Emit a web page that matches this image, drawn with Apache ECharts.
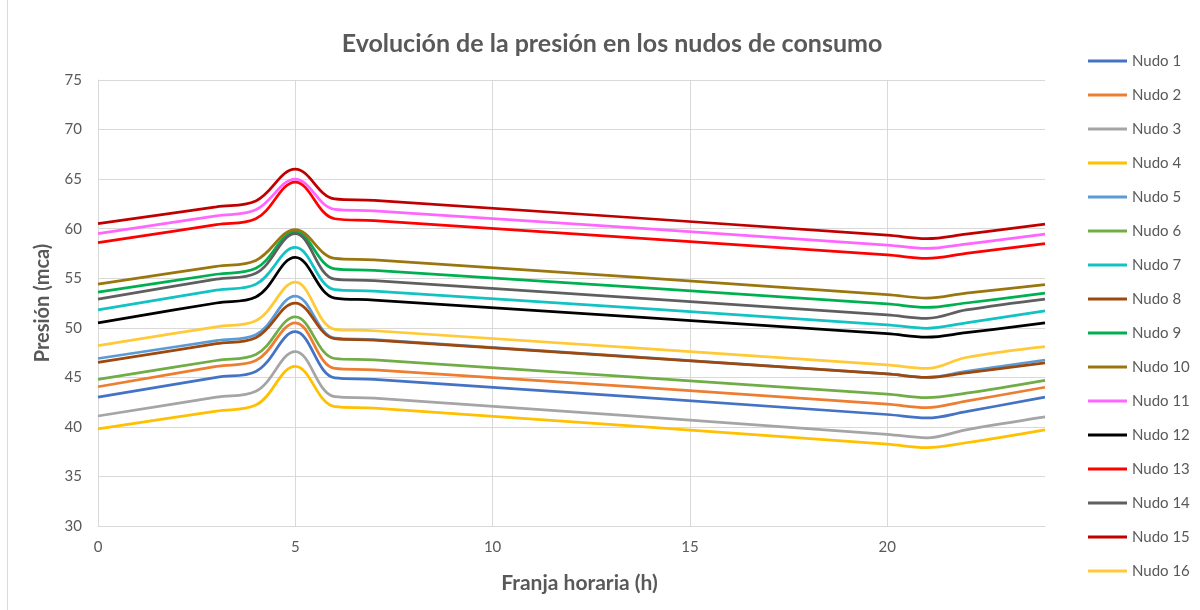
<!DOCTYPE html>
<html>
<head>
<meta charset="utf-8">
<title>Evolución de la presión en los nudos de consumo</title>
<script src="https://cdn.jsdelivr.net/npm/echarts@6/dist/echarts.min.js"></script>
<style>
  html, body { margin: 0; padding: 0; background: #ffffff; }
  #mainChart { width: 1200px; height: 610px; }
</style>
</head>
<body>
<div id="mainChart"></div>
<script>
// horas (franja horaria) en las que hay dato
var horas = [0, 3, 4, 5, 6, 7, 20, 21, 22, 24]

// presión (mca) de cada nudo
var nudo1 = [43.0, 45.0, 45.6, 49.6, 44.95, 44.8, 41.25, 40.9, 41.55, 43.0]
var nudo2 = [44.05, 46.1, 46.7, 50.5, 45.9, 45.75, 42.3, 41.95, 42.6, 44.0]
var nudo3 = [41.1, 43.0, 43.6, 47.6, 43.05, 42.9, 39.25, 38.9, 39.7, 41.0]
var nudo4 = [39.8, 41.6, 42.2, 46.1, 42.05, 41.9, 38.25, 37.9, 38.4, 39.7]
var nudo5 = [46.9, 48.7, 49.3, 53.2, 48.95, 48.8, 45.35, 45.0, 45.6, 46.75]
var nudo6 = [44.8, 46.7, 47.3, 51.1, 46.9, 46.75, 43.3, 42.95, 43.4, 44.7]
var nudo7 = [51.8, 53.8, 54.4, 58.1, 53.85, 53.7, 50.3, 49.95, 50.5, 51.7]
var nudo8 = [46.5, 48.4, 49.0, 52.5, 48.9, 48.75, 45.35, 45.0, 45.45, 46.45]
var nudo9 = [53.6, 55.4, 56.0, 59.7, 55.95, 55.8, 52.4, 52.05, 52.5, 53.5]
var nudo10 = [54.4, 56.2, 56.8, 59.9, 57.0, 56.85, 53.35, 53.0, 53.5, 54.35]
var nudo11 = [59.5, 61.3, 61.9, 65.0, 61.95, 61.8, 58.35, 58.0, 58.45, 59.45]
var nudo12 = [50.5, 52.5, 53.1, 57.1, 53.0, 52.8, 49.4, 49.05, 49.5, 50.5]
var nudo13 = [58.6, 60.4, 61.0, 64.7, 61.0, 60.8, 57.35, 57.0, 57.5, 58.5]
var nudo14 = [52.9, 54.9, 55.5, 59.5, 54.9, 54.75, 51.3, 50.95, 51.8, 52.9]
var nudo15 = [60.5, 62.2, 62.8, 66.0, 63.0, 62.85, 59.35, 59.0, 59.45, 60.45]
var nudo16 = [48.2, 50.1, 50.7, 54.6, 49.85, 49.7, 46.25, 45.9, 47.0, 48.1]

var nombres = ['Nudo 1', 'Nudo 2', 'Nudo 3', 'Nudo 4', 'Nudo 5', 'Nudo 6', 'Nudo 7', 'Nudo 8',
  'Nudo 9', 'Nudo 10', 'Nudo 11', 'Nudo 12', 'Nudo 13', 'Nudo 14', 'Nudo 15', 'Nudo 16']
var valores = [nudo1, nudo2, nudo3, nudo4, nudo5, nudo6, nudo7, nudo8,
  nudo9, nudo10, nudo11, nudo12, nudo13, nudo14, nudo15, nudo16]
var colores = ['#4472C4', '#ED7D31', '#A5A5A5', '#FFC000', '#5B9BD5', '#70AD47', '#13C2C2', '#9E480E',
  '#00B050', '#9A7610', '#FF66FF', '#000000', '#FF0000', '#5F5F5F', '#C00000', '#FFC937']

var fuente = 'Lato, "Open Sans", sans-serif'
var gris = '#595959'

var series = nombres.map(function (nombre, i) {
  return {
    name: nombre,
    type: 'line',
    smooth: 0.38,
    symbol: 'none',
    lineStyle: { width: 2.75, color: colores[i] },
    itemStyle: { color: colores[i] },
    data: horas.map(function (h, j) { return [h, valores[i][j]] })
  }
})

var chartDom = document.getElementById('mainChart')
var myChart = echarts.init(chartDom, null, { renderer: 'canvas' })
var option = {
  animation: false,
  backgroundColor: '#ffffff',
  color: colores,
  title: {
    text: 'Evolución de la presión en los nudos de consumo',
    left: 607,
    top: 26,
    textAlign: 'center',
    textStyle: { fontFamily: fuente, fontSize: 25, fontWeight: 'bold', color: gris }
  },
  legend: {
    orient: 'vertical',
    left: 1083,
    top: 47,
    icon: 'rect',
    itemWidth: 39,
    itemHeight: 3,
    itemGap: 16,
    textStyle: { fontFamily: fuente, fontSize: 15, color: gris, lineHeight: 18 },
    data: nombres
  },
  grid: { left: 98, right: 155, top: 80, bottom: 84 },
  xAxis: {
    type: 'value',
    min: 0,
    max: 24,
    interval: 5,
    name: 'Franja horaria (h)',
    nameLocation: 'middle',
    nameGap: 47,
    nameTextStyle: { fontFamily: fuente, fontSize: 21, fontWeight: 'bold', color: gris, padding: [0, 0, 0, 16] },
    axisLine: { show: true, lineStyle: { color: '#d9d9d9', width: 1 } },
    axisTick: { show: false },
    axisLabel: { fontFamily: fuente, fontSize: 15, color: gris, margin: 14, showMaxLabel: false },
    splitLine: { show: true, showMinLine: false, showMaxLine: false, lineStyle: { color: '#d9d9d9', width: 1 } }
  },
  yAxis: {
    type: 'value',
    min: 30,
    max: 75,
    interval: 5,
    name: 'Presión (mca)',
    nameLocation: 'middle',
    nameRotate: 90,
    nameGap: 45,
    nameTextStyle: { fontFamily: fuente, fontSize: 20, fontWeight: 'bold', color: gris },
    axisLine: { show: true, lineStyle: { color: '#d9d9d9', width: 1 } },
    axisTick: { show: false },
    axisLabel: { fontFamily: fuente, fontSize: 15, color: gris, margin: 16 },
    splitLine: { show: true, lineStyle: { color: '#d9d9d9', width: 1 } }
  },
  graphic: [
    // borde izquierdo del área del gráfico
    { type: 'line', shape: { x1: 7.5, y1: 0, x2: 7.5, y2: 610 }, style: { stroke: '#d9d9d9', lineWidth: 1 } }
  ],
  series: series
}
myChart.setOption(option)
</script>
</body>
</html>
